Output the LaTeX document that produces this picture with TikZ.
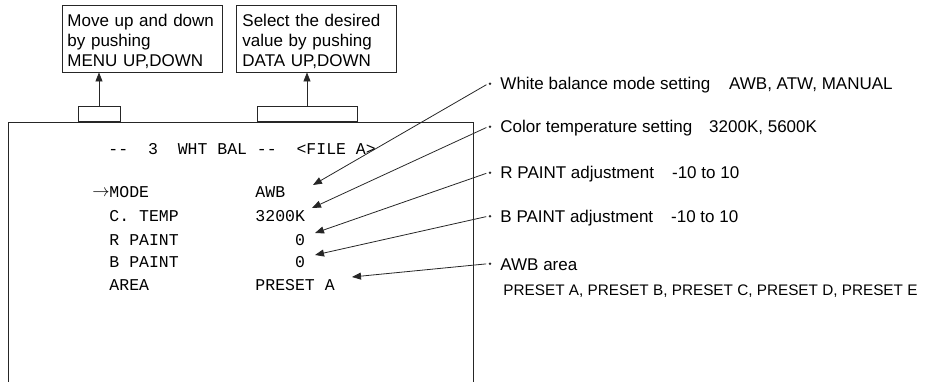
\documentclass[tikz,border=0pt]{standalone}
\usepackage{fontspec}
\setmainfont{Liberation Sans}
\newfontfamily\scrfont{Liberation Mono}[Ligatures=TeXOff,WordSpace={1,0,0}]
\usetikzlibrary{arrows.meta}
\begin{document}
\begin{tikzpicture}[x=1pt,y=-1pt,
  line width=0.9pt, draw=black!85,
  infobox/.style={draw, minimum width=160pt, minimum height=67pt, inner sep=0pt},
  boxtext/.style={anchor=base west, inner sep=0pt, text width=155pt, align=left,
                  font=\fontsize{17}{20}\selectfont},
  scr/.style={anchor=base west, inner sep=0pt, font=\scrfont\fontsize{16.5}{16.5}\selectfont},
  lbl/.style={anchor=base west, inner sep=0pt, font=\fontsize{17}{20}\selectfont},
  dotnode/.style={circle, fill=black!85, inner sep=0pt, minimum size=2.8pt},
  bracket/.style={draw, inner sep=0pt, minimum height=15pt, anchor=south},
  arr/.style={-{Triangle[length=9pt,width=7pt]}, line width=0.8pt},
  callout/.style={arr, shorten <=2pt},
]
\useasboundingbox (0,0) rectangle (926,382);

% instruction boxes
\node[infobox] (box1) at (142,38.5) {};
\node[infobox] (box2) at (316,38.5) {};
\node[boxtext] (t1) at (67,26.7) {Move up and down\\by pushing\\MENU UP,DOWN};
\node[boxtext] (t2) at (242,26.7) {Select the desired\\value by pushing\\DATA UP,DOWN};

% screen outline
\coordinate (sBL) at (8,382);
\coordinate (sTL) at (8,122);
\coordinate (sTR) at (473,122);
\coordinate (sBR) at (473,382);
\draw (sBL) -- (sTL) -- (sTR) -- (sBR);

% brackets and arrows up
\node[bracket, minimum width=42pt] (br1) at (99,122) {};
\node[bracket, minimum width=100pt] (br2) at (307,122) {};
\draw[arr] (br1.north) -- (br1.north |- box1.south);
\draw[arr] (br2.north) -- (br2.north |- box2.south);

% screen text
\node[scr] (title) at (108,155) {--\ \ 3\ \ WHT BAL --\ \ <FILE A>};
\node[scr] (m1) at (109,197.5) {MODE};
\node[scr, anchor=base east] (cur) at (110,196.5) {$\rightarrow$};
\node[scr] (v1) at (255,197.5) {AWB};
\node[scr] (m2) at (109,221.5) {C. TEMP};
\node[scr] (v2) at (255,221.5) {3200K};
\node[scr] (m3) at (109,245.5) {R PAINT};
\node[scr] (v3) at (255,245.5) {\phantom{3200}0};
\node[scr] (m4) at (109,267) {B PAINT};
\node[scr] (v4) at (255,267) {\phantom{3200}0};
\node[scr] (m5) at (109,290.5) {AREA};
\node[scr] (v5) at (255,290.5) {PRESET A};

% arrow targets
\coordinate (p1) at (313,185);
\coordinate (p2) at (312,208);
\coordinate (p3) at (315,233);
\coordinate (p4) at (315,255);
\coordinate (p5) at (352,277);

% callouts
\node[dotnode] (d1) at (490,83.7) {};
\node[dotnode] (d2) at (490,126.7) {};
\node[dotnode] (d3) at (490,172.7) {};
\node[dotnode] (d4) at (490,216.2) {};
\node[dotnode] (d5) at (490,263.7) {};
\node[lbl] (l1) at (500,90) {White balance mode setting\hspace{19pt}AWB, ATW, MANUAL};
\node[lbl] (l2) at (500,133) {Color temperature setting\hspace{17pt}3200K, 5600K};
\node[lbl] (l3) at (500,179) {R PAINT adjustment\hspace{18pt}-10 to 10};
\node[lbl] (l4) at (500,222.5) {B PAINT adjustment\hspace{18pt}-10 to 10};
\node[lbl] (l5) at (500,270) {AWB area};
\node[lbl, font=\fontsize{15.3}{18}\selectfont] (l6) at (503,295)
  {PRESET A, PRESET B, PRESET C, PRESET D, PRESET E};

\draw[callout] (d1.west) -- (p1);
\draw[callout] (d2.west) -- (p2);
\draw[callout] (d3.west) -- (p3);
\draw[callout] (d4.west) -- (p4);
\draw[callout] (d5.west) -- (p5);
\end{tikzpicture}
\end{document}
